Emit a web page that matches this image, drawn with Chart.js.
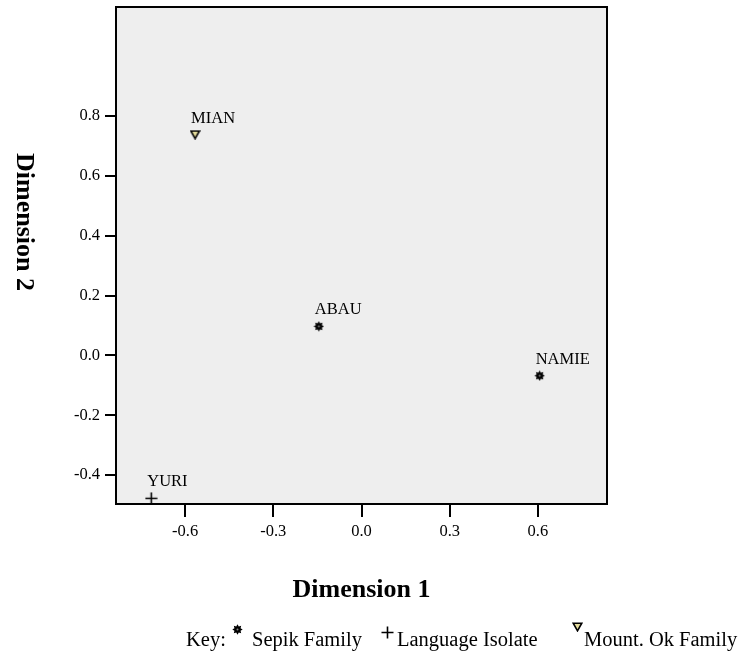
<!DOCTYPE html>
<html>
<head>
<meta charset="utf-8">
<title>Dimension plot</title>
<script src="https://cdn.jsdelivr.net/npm/chart.js@4.4.1/dist/chart.umd.min.js"></script>
<style>
  html, body { margin:0; padding:0; background:#fff; }
  #wrap { width:745px; height:656px; position:relative; }
</style>
</head>
<body>
<div id="wrap"><canvas id="plot" width="745" height="656"></canvas></div>
<script>
/* ---------- data ---------- */
const names  = ["MIAN", "ABAU", "NAMIE", "YURI"];
const dim1   = [-0.566, -0.145, 0.606, -0.715];
const dim2   = [0.738, 0.097, -0.068, -0.478];
const family = ["Mount. Ok Family", "Sepik Family", "Sepik Family", "Language Isolate"];

const groups = ["Sepik Family", "Language Isolate", "Mount. Ok Family"];
const xTicks = [-0.6, -0.3, 0.0, 0.3, 0.6];
const yTicks = [-0.4, -0.2, 0.0, 0.2, 0.4, 0.6, 0.8];
const xRange = [-0.835, 0.835];
const yRange = [-0.497, 1.165];

/* ---------- marker glyphs ---------- */
function makeGear(){
  const c = document.createElement("canvas"); c.width = 11; c.height = 11;
  const g = c.getContext("2d");
  g.beginPath();
  for(let i=0;i<16;i++){
    const r = i%2===0 ? 5.2 : 3.3;
    const a = i*Math.PI/8 - Math.PI/2;
    const px = 5.5 + r*Math.cos(a), py = 5.5 + r*Math.sin(a);
    i===0 ? g.moveTo(px,py) : g.lineTo(px,py);
  }
  g.closePath(); g.fillStyle = "#000"; g.fill();
  g.beginPath(); g.arc(5.5,5.5,1,0,Math.PI*2); g.fillStyle = "#888"; g.fill();
  return c;
}
function makePlus(){
  const c = document.createElement("canvas"); c.width = 13; c.height = 13;
  const g = c.getContext("2d");
  g.strokeStyle = "#000"; g.lineWidth = 1.6;
  g.beginPath(); g.moveTo(0.5,6.5); g.lineTo(12.5,6.5); g.moveTo(6.5,0.5); g.lineTo(6.5,12.5); g.stroke();
  return c;
}
function makeTriangle(){
  const c = document.createElement("canvas"); c.width = 11; c.height = 10;
  const g = c.getContext("2d");
  g.beginPath(); g.moveTo(1.2,1.2); g.lineTo(9.8,1.2); g.lineTo(5.5,8.8); g.closePath();
  g.fillStyle = "#e4dc9c"; g.fill();
  g.strokeStyle = "#000"; g.lineWidth = 1.6; g.stroke();
  return c;
}
const glyphs = {
  "Sepik Family": makeGear(),
  "Language Isolate": makePlus(),
  "Mount. Ok Family": makeTriangle()
};

const datasets = groups.map(grp => {
  const pts = [];
  names.forEach((n,i) => { if(family[i] === grp) pts.push({ x: dim1[i], y: dim2[i], name: n }); });
  return { label: grp, data: pts, pointStyle: glyphs[grp], pointRadius: 6, pointHoverRadius: 6 };
});

const serif = "'Liberation Serif', 'Times New Roman', serif";

/* ---------- plugins ---------- */
const frame = {
  id: "frame",
  beforeDraw(chart){
    const { ctx, chartArea: a } = chart;
    ctx.save(); ctx.fillStyle = "#eeeeee";
    ctx.fillRect(a.left, a.top, a.right - a.left, a.bottom - a.top);
    ctx.restore();
  },
  afterDatasetsDraw(chart){
    const { ctx, chartArea: a } = chart;
    ctx.save();
    ctx.strokeStyle = "#000"; ctx.lineWidth = 2;
    ctx.strokeRect(a.left, a.top, a.right - a.left, a.bottom - a.top);

    // point names
    ctx.fillStyle = "#000"; ctx.font = "16.5px " + serif;
    ctx.textAlign = "left"; ctx.textBaseline = "alphabetic";
    chart.data.datasets.forEach((ds, di) => {
      chart.getDatasetMeta(di).data.forEach((el, i) => {
        ctx.fillText(ds.data[i].name, el.x - 4, el.y - 12);
      });
    });

    // axis titles
    ctx.font = "bold 26px " + serif;
    ctx.textAlign = "center"; ctx.textBaseline = "middle";
    ctx.fillText("Dimension 1", (a.left + a.right)/2, 590);
    ctx.save();
    ctx.translate(24, 222); ctx.rotate(Math.PI/2);
    ctx.fillText("Dimension 2", 0, 0);
    ctx.restore();

    // key
    ctx.font = "20.5px " + serif; ctx.textAlign = "left"; ctx.textBaseline = "alphabetic";
    const base = 646;
    ctx.fillText("Key:", 186, base);
    ctx.drawImage(glyphs["Sepik Family"], 232, 624);
    ctx.fillText("Sepik Family", 252, base);
    ctx.drawImage(glyphs["Language Isolate"], 381, 626);
    ctx.fillText("Language Isolate", 397, base);
    ctx.drawImage(glyphs["Mount. Ok Family"], 572, 622);
    ctx.fillText("Mount. Ok Family", 584, base);
    ctx.restore();
  }
};

new Chart(document.getElementById("plot"), {
  type: "scatter",
  data: { datasets },
  options: {
    responsive: false,
    animation: false,
    layout: { padding: { top: 7, right: 138, bottom: 0, left: 0 } },
    plugins: { legend: { display: false }, tooltip: { enabled: false } },
    scales: {
      x: {
        min: xRange[0], max: xRange[1],
        afterBuildTicks: s => { s.ticks = xTicks.map(v => ({ value: v })); },
        afterFit: s => { s.height = 152; s.paddingLeft = 0; s.paddingRight = 0; },
        grid: { drawOnChartArea: false, drawTicks: true, tickLength: 13, color: "#000", lineWidth: 2 },
        border: { display: false },
        ticks: { color: "#000", padding: 5, maxRotation: 0, font: { family: serif, size: 16.5 },
                 callback: v => v.toFixed(1) }
      },
      y: {
        min: yRange[0], max: yRange[1],
        afterBuildTicks: s => { s.ticks = yTicks.map(v => ({ value: v })); },
        afterFit: s => { s.width = 116; s.paddingTop = 0; s.paddingBottom = 0; },
        grid: { drawOnChartArea: false, drawTicks: true, tickLength: 11, color: "#000", lineWidth: 2 },
        border: { display: false },
        ticks: { color: "#000", padding: 5, font: { family: serif, size: 16.5 },
                 callback: v => v.toFixed(1) }
      }
    }
  },
  plugins: [frame]
});
</script>
</body>
</html>
